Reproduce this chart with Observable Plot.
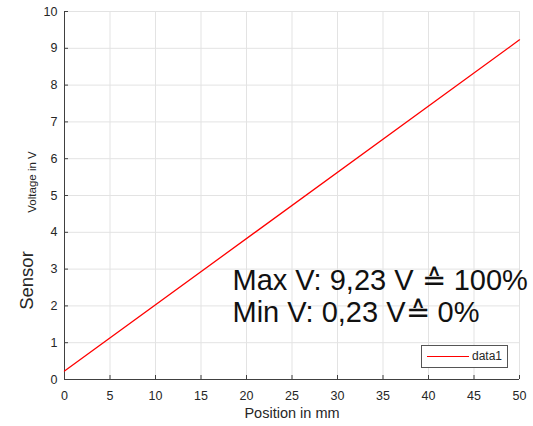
<!DOCTYPE html>
<html>
<head>
<meta charset="utf-8">
<script src="https://cdn.jsdelivr.net/npm/d3@7"></script>
<script src="https://cdn.jsdelivr.net/npm/@observablehq/plot@0.6"></script>
<style>
  html, body { margin: 0; padding: 0; background: #fff; }
  #wrap { position: relative; width: 533px; height: 426px; font-family: "Liberation Sans", Arial, sans-serif; }
  #legend { position: absolute; left: 421px; top: 345px; width: 85px; height: 21px; border: 1px solid #555; background: #fff; box-sizing: content-box; }
  #legend .sw { position: absolute; left: 5px; top: 10px; width: 42px; height: 0; border-top: 1px solid #ff0000; }
  #legend .lb { position: absolute; left: 50px; top: 3px; font-size: 12px; color: #262626; line-height: 14px; }
</style>
</head>
<body>
<div id="wrap"></div>
<script>
const positions = [0, 50];
const voltages = [0.23, 9.23];
const xTicks = [0, 5, 10, 15, 20, 25, 30, 35, 40, 45, 50];
const yTicks = [0, 1, 2, 3, 4, 5, 6, 7, 8, 9, 10];
const seriesName = "data1";
const annotation = "Max V: 9,23 V \u2259 100%\nMin V: 0,23 V\u2259 0%";

const data = positions.map((p, i) => ({x: p, y: voltages[i]}));

const chart = Plot.plot({
  width: 533,
  height: 426,
  marginLeft: 64,
  marginRight: 14,
  marginTop: 11,
  marginBottom: 47,
  style: {fontFamily: "Liberation Sans, Arial, sans-serif", background: "#fff"},
  x: {domain: [0, 50]},
  y: {domain: [0, 10]},
  marks: [
    Plot.gridX(xTicks, {stroke: "#e3e3e3", strokeOpacity: 1}),
    Plot.gridY(yTicks, {stroke: "#e3e3e3", strokeOpacity: 1}),
    Plot.axisX(xTicks, {tickSize: -4, tickPadding: 16, stroke: "#404040", fill: "#262626", fontSize: 12.5, label: null}),
    Plot.axisY(yTicks, {tickSize: -4, tickPadding: 11, stroke: "#404040", fill: "#262626", fontSize: 12.5, label: null}),
    Plot.ruleX([0], {stroke: "#404040"}),
    Plot.ruleY([0], {stroke: "#404040"}),
    Plot.line(data, {x: "x", y: "y", stroke: "#ff0000", strokeWidth: 1.3}),
    Plot.text(["Position in mm"], {frameAnchor: "bottom", textAnchor: "middle", lineAnchor: "middle", dy: 34, fontSize: 14.5, fill: "#262626"}),
    Plot.text(["Sensor"], {frameAnchor: "left", textAnchor: "middle", lineAnchor: "middle", dx: -37.5, dy: 85, rotate: -90, fontSize: 18.5, fill: "#262626"}),
    Plot.text(["Voltage in V"], {frameAnchor: "left", textAnchor: "middle", lineAnchor: "middle", dx: -32.5, dy: -13.5, rotate: -90, fontSize: 11.5, fill: "#262626"}),
    Plot.text([annotation], {frameAnchor: "top-left", dx: 168, dy: 255.5, textAnchor: "start", lineAnchor: "top", lineHeight: 1.114, fontSize: 29, fill: "#111"})
  ]
});

const wrap = document.getElementById("wrap");
wrap.appendChild(chart);
const lg = document.createElement("div");
lg.id = "legend";
lg.innerHTML = '<div class="sw"></div><div class="lb">' + seriesName + '</div>';
wrap.appendChild(lg);
</script>
</body>
</html>
